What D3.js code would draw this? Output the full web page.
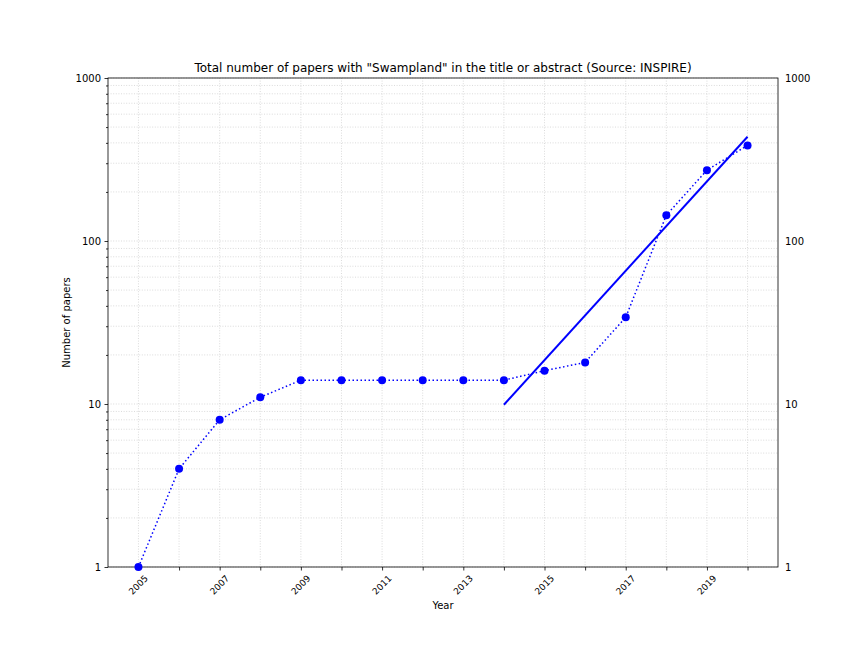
<!DOCTYPE html>
<html>
<head>
<meta charset="utf-8">
<script src="https://d3js.org/d3.v7.min.js"></script>
<style>
body { margin: 0; background: #fff; }
text { font-family: "DejaVu Sans", sans-serif; fill: #000; }
</style>
</head>
<body>
<div id="chart"></div>
<script>
// papers per year (INSPIRE)
const years = [2005, 2006, 2007, 2008, 2009, 2010, 2011, 2012, 2013, 2014, 2015, 2016, 2017, 2018, 2019, 2020];
const papers = [1, 4, 8, 11, 14, 14, 14, 14, 14, 14, 16, 18, 34, 144, 272, 386];

// exponential fit, end points
const fitYears = [2014, 2020];
const fitValues = [9.9, 436];

const yTicks = [1, 10, 100, 1000];
const xLabelYears = [2005, 2007, 2009, 2011, 2013, 2015, 2017, 2019];

const margin = {top: 78, left: 108, right: 86, bottom: 81};
const W = 864, H = 648;
const width = W - margin.left - margin.right;
const height = H - margin.top - margin.bottom;

const svg = d3.select("#chart").append("svg")
    .attr("width", W)
    .attr("height", H);

const g = svg.append("g")
    .attr("transform", "translate(" + margin.left + "," + margin.top + ")");

const x = d3.scaleLinear()
    .domain([2004.25, 2020.75])
    .range([0, width]);

const y = d3.scaleLog()
    .domain([1, 1000])
    .range([height, 0]);

// minor log values 2..9 per decade
let minor = [];
[1, 10, 100].forEach(function(d) {
    for (let k = 2; k <= 9; k++) minor.push(d * k);
});

// grid
const grid = g.append("g").attr("class", "grid");
grid.selectAll("line.hy")
    .data(yTicks.concat(minor))
    .enter().append("line")
    .attr("x1", 0).attr("x2", width)
    .attr("y1", d => y(d)).attr("y2", d => y(d))
    .style("stroke", "#d2d2d2")
    .style("stroke-width", 0.8)
    .style("stroke-dasharray", "1,1.6");
grid.selectAll("line.vx")
    .data(years)
    .enter().append("line")
    .attr("y1", 0).attr("y2", height)
    .attr("x1", d => x(d)).attr("x2", d => x(d))
    .style("stroke", "#d2d2d2")
    .style("stroke-width", 0.8)
    .style("stroke-dasharray", "1,1.6");

// axes
const xAxis = d3.axisBottom(x)
    .tickValues(years)
    .tickSize(3.5)
    .tickFormat("");
g.append("g")
    .attr("transform", "translate(0," + height + ")")
    .call(xAxis)
    .call(a => a.select(".domain").remove());

g.selectAll("text.xlab")
    .data(xLabelYears)
    .enter().append("text")
    .attr("class", "xlab")
    .attr("transform", d => "translate(" + x(d) + "," + (height + 18) + ") rotate(-45)")
    .attr("text-anchor", "middle")
    .attr("dominant-baseline", "central")
    .style("font-size", "9px")
    .text(d => d);

const yAxis = d3.axisLeft(y)
    .tickValues(yTicks)
    .tickSize(3.5)
    .tickPadding(3.5)
    .tickFormat(d3.format("d"));
g.append("g")
    .call(yAxis)
    .call(a => a.select(".domain").remove())
    .selectAll("text").style("font-size", "10px");

g.append("g")
    .call(d3.axisLeft(y).tickValues(minor).tickSize(2).tickFormat(""))
    .call(a => a.select(".domain").remove());

const yAxisR = d3.axisRight(y)
    .tickValues(yTicks)
    .tickSize(0)
    .tickPadding(7)
    .tickFormat(d3.format("d"));
g.append("g")
    .attr("transform", "translate(" + width + ",0)")
    .call(yAxisR)
    .call(a => a.select(".domain").remove())
    .selectAll("text").style("font-size", "10px");

g.selectAll(".tick line").style("stroke", "#000").style("stroke-width", 0.8);

// frame
g.append("rect")
    .attr("width", width)
    .attr("height", height)
    .style("fill", "none")
    .style("stroke", "#000")
    .style("stroke-width", 0.8);

// data
const pts = years.map((d, i) => ({year: d, n: papers[i]}));
const fit = fitYears.map((d, i) => ({year: d, n: fitValues[i]}));

const line = d3.line()
    .x(d => x(d.year))
    .y(d => y(d.n));

g.append("path")
    .datum(pts)
    .attr("d", line)
    .style("fill", "none")
    .style("stroke", "#0000ff")
    .style("stroke-width", 1.5)
    .style("stroke-dasharray", "1.5,2.5");

g.append("path")
    .datum(fit)
    .attr("d", line)
    .style("fill", "none")
    .style("stroke", "#0000ff")
    .style("stroke-width", 2);

g.selectAll("circle.pt")
    .data(pts)
    .enter().append("circle")
    .attr("class", "pt")
    .attr("cx", d => x(d.year))
    .attr("cy", d => y(d.n))
    .attr("r", 4)
    .style("fill", "#0000ff");

// labels
svg.append("text")
    .attr("x", margin.left + width / 2)
    .attr("y", 72)
    .attr("text-anchor", "middle")
    .style("font-size", "12px")
    .text("Total number of papers with \"Swampland\" in the title or abstract (Source: INSPIRE)");

svg.append("text")
    .attr("x", margin.left + width / 2)
    .attr("y", 609)
    .attr("text-anchor", "middle")
    .style("font-size", "10px")
    .text("Year");

svg.append("text")
    .attr("transform", "translate(70," + (margin.top + height / 2) + ") rotate(-90)")
    .attr("text-anchor", "middle")
    .style("font-size", "10px")
    .text("Number of papers");
</script>
</body>
</html>
